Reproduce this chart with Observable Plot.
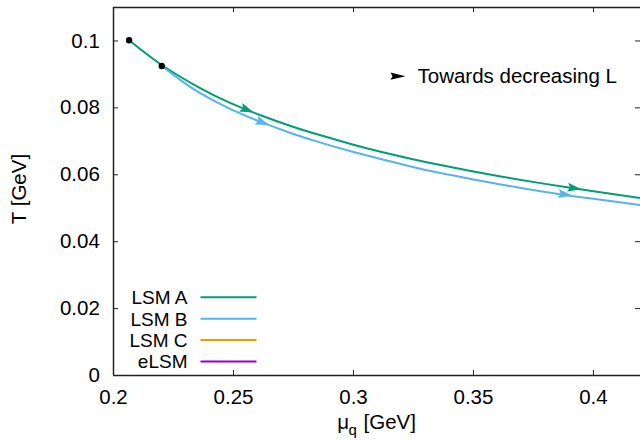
<!DOCTYPE html>
<html>
<head>
<meta charset="utf-8">
<script src="https://cdn.jsdelivr.net/npm/d3@7"></script>
<script src="https://cdn.jsdelivr.net/npm/@observablehq/plot@0.6"></script>
<style>
  html, body { margin: 0; padding: 0; background: white; }
</style>
</head>
<body>
<div id="chart"></div>
<script>
// ---- data ----
const seriesNames = ["LSM A", "LSM B", "LSM C", "eLSM"];
const seriesColors = ["#009e73", "#56b4e9", "#e69f00", "#9400d3"];

const muA = [0.2065, 0.2201, 0.2363, 0.2488, 0.2613, 0.2738, 0.2863, 0.3, 0.3113, 0.3238, 0.3363, 0.35, 0.3613, 0.3779, 0.4, 0.42];
const TA  = [0.1002, 0.0928, 0.0858, 0.0814, 0.0778, 0.0746, 0.0718, 0.0690, 0.0669, 0.0648, 0.0629, 0.0610, 0.0595, 0.0575, 0.0551, 0.0530];

const muB = [0.2201, 0.2279, 0.2363, 0.2488, 0.2613, 0.2738, 0.2863, 0.3, 0.3113, 0.3238, 0.3363, 0.35, 0.3613, 0.3779, 0.4, 0.42];
const TB  = [0.0925, 0.0883, 0.0843, 0.0796, 0.0758, 0.0725, 0.0696, 0.0668, 0.0647, 0.0625, 0.0605, 0.0586, 0.0571, 0.0551, 0.0528, 0.0509];

const startMu = [0.2065, 0.2201];
const startT  = [0.1002, 0.0925];

const arrowSeries = ["LSM A", "LSM A", "LSM B", "LSM B"];
const arrowMu = [0.2557, 0.3921, 0.2622, 0.3882];
const arrowT  = [0.0794, 0.0560, 0.0756, 0.0541];

const xTicks = [0.2, 0.25, 0.3, 0.35, 0.4];
const yTicks = [0, 0.02, 0.04, 0.06, 0.08, 0.1];

const xLabelParts = ["μ", "q", "[GeV]"];
const yLabel = "T [GeV]";
const keyLabel = "Towards decreasing L";

// ---- layout ----
const W = 640, H = 441;
const mL = 113, mR = 0, mT = 7, mB = 66;
const xDomain = [0.2, 0.4196];
const yDomain = [0, 0.11];
const font = "'Liberation Sans', Arial, Helvetica, sans-serif";

const curveData = [
  ...muA.map((mu, i) => ({series: seriesNames[0], mu, T: TA[i]})),
  ...muB.map((mu, i) => ({series: seriesNames[1], mu, T: TB[i]}))
];
const startData = startMu.map((mu, i) => ({mu, T: startT[i]}));

// direction of arrows follows the curve in screen space
const xs = d3.scaleLinear(xDomain, [mL, W - mR]);
const ys = d3.scaleLinear(yDomain, [H - mB, mT]);
function angleAt(mus, Ts, mu) {
  let i = 0;
  while (i < mus.length - 2 && mus[i + 1] < mu) i++;
  const dx = xs(mus[i + 1]) - xs(mus[i]);
  const dy = ys(Ts[i + 1]) - ys(Ts[i]);
  return Math.atan2(dy, dx) * 180 / Math.PI;
}
const arrowData = arrowMu.map((mu, i) => {
  const isA = arrowSeries[i] === seriesNames[0];
  return {series: arrowSeries[i], mu, T: arrowT[i],
          angle: isA ? angleAt(muA, TA, mu) : angleAt(muB, TB, mu)};
});

const arrowHead = {
  draw(ctx) {
    ctx.moveTo(7, 0);
    ctx.lineTo(-7, -4.5);
    ctx.lineTo(-4.5, 0);
    ctx.lineTo(-7, 4.5);
    ctx.closePath();
  }
};
const keyArrow = {
  draw(ctx) {
    ctx.moveTo(7.5, 0);
    ctx.lineTo(-7.5, -3.6);
    ctx.lineTo(-5.5, 0);
    ctx.lineTo(-7.5, 3.6);
    ctx.closePath();
  }
};
const legendLine = {
  draw(ctx) {
    ctx.moveTo(-28, 0);
    ctx.lineTo(28, 0);
  }
};

const frameCenterX = (mL + (W - mR)) / 2;
const legendStep = 21.4;

const legendMarks = seriesNames.flatMap((name, i) => [
  Plot.text([name], {frameAnchor: "bottom-left", dx: 74, dy: -77.4 + i * legendStep,
    text: d => d, textAnchor: "end", lineAnchor: "middle", fontSize: 19, fill: "black"}),
  Plot.dot([name], {frameAnchor: "bottom-left", dx: 115, dy: -78.2 + i * legendStep,
    symbol: legendLine, stroke: seriesColors[i], strokeWidth: 2, fill: "none", r: 5})
]);

const chart = Plot.plot({
  width: W, height: H,
  marginLeft: mL, marginRight: mR, marginTop: mT, marginBottom: mB,
  x: {domain: xDomain},
  y: {domain: yDomain},
  color: {domain: seriesNames, range: seriesColors},
  style: {fontFamily: font, fontSize: "20.5px", color: "black", background: "white", overflow: "visible"},
  marks: [
    // tick labels
    Plot.axisX(xTicks, {tickSize: 0, tickPadding: 14.3, tickFormat: d => String(d), label: null, fill: "black"}),
    Plot.axisY(yTicks, {tickSize: 0, tickPadding: 13.7, tickFormat: d => String(d), label: null, fill: "black"}),
    // inward ticks (bottom/top, left/right)
    Plot.ruleX(xTicks, {x: d => d, y1: () => yDomain[0], y2: () => yDomain[0], insetTop: -5, stroke: "#222"}),
    Plot.ruleX(xTicks, {x: d => d, y1: () => yDomain[1], y2: () => yDomain[1], insetBottom: -5, stroke: "#222"}),
    Plot.ruleY(yTicks, {y: d => d, x1: () => xDomain[0], x2: () => xDomain[0], insetRight: -5, stroke: "#222"}),
    Plot.ruleY(yTicks, {y: d => d, x1: () => xDomain[1], x2: () => xDomain[1], insetLeft: -5, stroke: "#222"}),
    // border (left, bottom, top)
    Plot.ruleX([xDomain[0]], {stroke: "#222", strokeWidth: 1.5}),
    Plot.ruleY([yDomain[0], yDomain[1]], {stroke: "#222", strokeWidth: 1.5}),
    // curves
    Plot.line(curveData, {x: "mu", y: "T", z: "series", stroke: "series", strokeWidth: 2, curve: "natural"}),
    Plot.dot(arrowData, {x: "mu", y: "T", fill: "series", symbol: arrowHead, rotate: "angle", r: 5}),
    Plot.dot(startData, {x: "mu", y: "T", fill: "black", r: 3.2}),
    // key: arrow meaning
    Plot.dot([keyLabel], {frameAnchor: "top-left", dx: 284.5, dy: 68.7, symbol: keyArrow, fill: "black", r: 5}),
    Plot.text([keyLabel], {frameAnchor: "top-left", dx: 304, dy: 69.4, text: d => d, textAnchor: "start", lineAnchor: "middle", fill: "black"}),
    // legend
    ...legendMarks,
    // axis titles
    Plot.text([yLabel], {frameAnchor: "left", dx: -94, dy: -2.5, rotate: -90, text: d => d, textAnchor: "middle", lineAnchor: "middle", fill: "black"}),
    Plot.text([xLabelParts[0]], {frameAnchor: "bottom", dx: 336.7 - frameCenterX, dy: 53.3, text: d => d, textAnchor: "start", lineAnchor: "bottom", fill: "black"}),
    Plot.text([xLabelParts[1]], {frameAnchor: "bottom", dx: 348 - frameCenterX, dy: 59.5, text: d => d, textAnchor: "start", lineAnchor: "bottom", fontSize: 15, fill: "black"}),
    Plot.text([xLabelParts[2]], {frameAnchor: "bottom", dx: 363 - frameCenterX, dy: 53.3, text: d => d, textAnchor: "start", lineAnchor: "bottom", fill: "black"})
  ]
});

document.getElementById("chart").appendChild(chart);
</script>
</body>
</html>
